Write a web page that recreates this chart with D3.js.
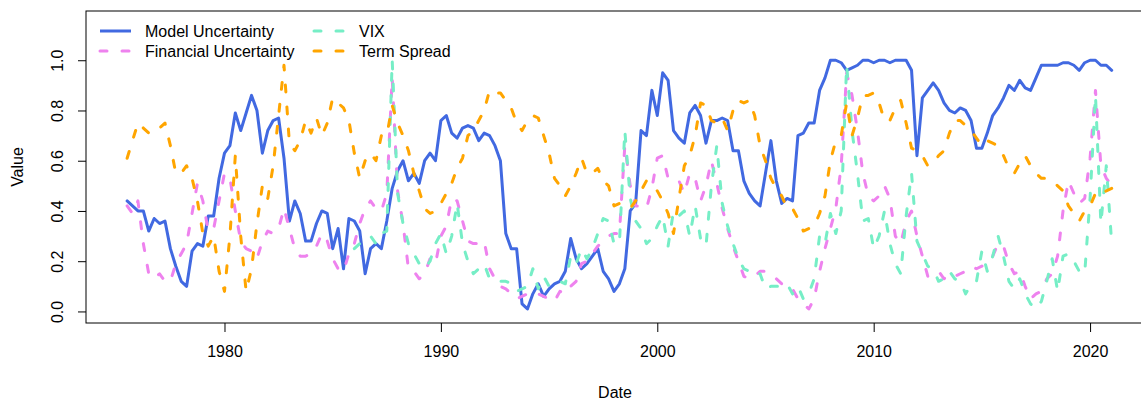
<!DOCTYPE html>
<html>
<head>
<meta charset="utf-8">
<script src="https://cdn.jsdelivr.net/npm/d3@7"></script>
<style>
  body { margin: 0; background: #fff; }
  text { font-family: "Liberation Sans", Arial, sans-serif; font-size: 16px; fill: #000; }
</style>
</head>
<body>
<script>
// quarterly observations, first one at 1975.5
var startYear = 1975.5;
var stepYear = 0.25;
var vixStartYear = 1986.0;

var modelUncertainty = [
  0.44, 0.42,
  0.40, 0.40, 0.32, 0.37,
  0.35, 0.36, 0.25, 0.18,
  0.12, 0.10, 0.24, 0.27,
  0.26, 0.38, 0.38, 0.53,
  0.63, 0.66, 0.79, 0.72,
  0.79, 0.86, 0.80, 0.63,
  0.72, 0.76, 0.77, 0.61,
  0.36, 0.44, 0.39, 0.28,
  0.28, 0.35, 0.40, 0.39,
  0.25, 0.33, 0.17, 0.37,
  0.36, 0.32, 0.15, 0.25,
  0.27, 0.25, 0.36, 0.49,
  0.56, 0.60, 0.52, 0.55,
  0.51, 0.60, 0.63, 0.60,
  0.76, 0.78, 0.71, 0.69,
  0.73, 0.74, 0.73, 0.68,
  0.71, 0.70, 0.66, 0.60,
  0.31, 0.25, 0.25, 0.03,
  0.01, 0.07, 0.11, 0.06,
  0.09, 0.11, 0.12, 0.16,
  0.29, 0.21, 0.17, 0.19,
  0.22, 0.25, 0.16, 0.13,
  0.08, 0.11, 0.17, 0.40,
  0.43, 0.72, 0.70, 0.88,
  0.78, 0.95, 0.92, 0.72,
  0.69, 0.67, 0.79, 0.82,
  0.78, 0.67, 0.76, 0.76,
  0.77, 0.76, 0.64, 0.64,
  0.52, 0.47, 0.44, 0.42,
  0.55, 0.68, 0.52, 0.43,
  0.45, 0.44, 0.70, 0.71,
  0.75, 0.75, 0.88, 0.93,
  1.00, 1.00, 0.99, 0.96,
  0.97, 0.98, 1.00, 1.00,
  0.99, 1.00, 1.00, 0.99,
  1.00, 1.00, 1.00, 0.96,
  0.62, 0.85, 0.88, 0.91,
  0.88, 0.83, 0.80, 0.79,
  0.81, 0.80, 0.76, 0.65,
  0.65, 0.71, 0.78, 0.81,
  0.85, 0.90, 0.88, 0.92,
  0.89, 0.88, 0.93, 0.98,
  0.98, 0.98, 0.98, 0.99,
  0.99, 0.98, 0.96, 0.99,
  1.00, 1.00, 0.98, 0.98,
  0.96
];

var financialUncertainty = [
  0.42, 0.39,
  0.44, 0.27, 0.15, 0.13,
  0.15, 0.12, 0.12, 0.19,
  0.23, 0.27, 0.39, 0.51,
  0.44, 0.32, 0.33, 0.44,
  0.55, 0.53, 0.40, 0.28,
  0.25, 0.24, 0.21, 0.28,
  0.32, 0.31, 0.33, 0.41,
  0.33, 0.25, 0.22, 0.22,
  0.23, 0.26, 0.31, 0.28,
  0.21, 0.17, 0.16, 0.23,
  0.27, 0.35, 0.41, 0.44,
  0.41, 0.40, 0.47, 0.93,
  0.48, 0.35, 0.17, 0.16,
  0.13, 0.15, 0.21, 0.19,
  0.30, 0.34, 0.45, 0.44,
  0.36, 0.28, 0.27, 0.27,
  0.28, 0.17, 0.13, 0.10,
  0.09, 0.07, 0.05, 0.06,
  0.07, 0.08, 0.07, 0.06,
  0.05, 0.04, 0.08, 0.07,
  0.10, 0.12, 0.19, 0.20,
  0.23, 0.26, 0.28, 0.30,
  0.31, 0.31, 0.66, 0.50,
  0.42, 0.42, 0.41, 0.49,
  0.61, 0.62, 0.53, 0.53,
  0.52, 0.47, 0.55, 0.53,
  0.44, 0.50, 0.60, 0.51,
  0.41, 0.33, 0.26, 0.20,
  0.14, 0.13, 0.14, 0.16,
  0.16, 0.15, 0.13, 0.11,
  0.11, 0.09, 0.05, 0.03,
  0.01, 0.05, 0.16, 0.25,
  0.33, 0.41, 0.58, 0.95,
  0.86, 0.72, 0.55, 0.46,
  0.44, 0.46, 0.50, 0.45,
  0.30, 0.27, 0.36, 0.40,
  0.30, 0.22, 0.14, 0.15,
  0.16, 0.13, 0.15, 0.14,
  0.15, 0.16, 0.18, 0.17,
  0.18, 0.20, 0.22, 0.27,
  0.26, 0.19, 0.15, 0.16,
  0.10, 0.05, 0.07, 0.08,
  0.13, 0.15, 0.22, 0.40,
  0.52, 0.47, 0.43, 0.45,
  0.61, 0.88, 0.58, 0.53,
  0.50
];

// VIX only exists from 1986 on
var vix = [
  0.25, 0.27, 0.29, 0.30,
  0.27, 0.31, 0.32, 1.00,
  0.47, 0.35, 0.27, 0.23,
  0.19, 0.17, 0.20, 0.27,
  0.31, 0.23, 0.30, 0.43,
  0.27, 0.20, 0.15, 0.17,
  0.19, 0.13, 0.12, 0.12,
  0.12, 0.11, 0.08, 0.09,
  0.10, 0.17, 0.09, 0.14,
  0.10, 0.11, 0.12, 0.11,
  0.22, 0.19, 0.25, 0.21,
  0.25, 0.31, 0.37, 0.36,
  0.27, 0.27, 0.72, 0.45,
  0.36, 0.33, 0.27, 0.29,
  0.34, 0.38, 0.26, 0.40,
  0.38, 0.40, 0.30, 0.42,
  0.29, 0.26, 0.50, 0.66,
  0.43, 0.34, 0.27, 0.21,
  0.17, 0.16, 0.14, 0.15,
  0.09, 0.10, 0.10, 0.10,
  0.11, 0.07, 0.10, 0.05,
  0.07, 0.13, 0.30, 0.27,
  0.39, 0.31, 0.40, 0.98,
  0.72, 0.55, 0.36, 0.37,
  0.25, 0.30, 0.40, 0.27,
  0.19, 0.15, 0.38, 0.55,
  0.28, 0.23, 0.18, 0.17,
  0.12, 0.13, 0.16, 0.13,
  0.12, 0.07, 0.11, 0.12,
  0.24, 0.16, 0.22, 0.30,
  0.22, 0.12, 0.09, 0.13,
  0.07, 0.03, 0.01, 0.04,
  0.12, 0.21, 0.08, 0.22,
  0.23, 0.20, 0.16, 0.15,
  0.45, 0.86, 0.35, 0.58,
  0.27
];

var termSpread = [
  0.61, 0.68,
  0.75, 0.73, 0.71, 0.71,
  0.73, 0.75, 0.66, 0.55,
  0.55, 0.58, 0.53, 0.44,
  0.31, 0.26, 0.30, 0.16,
  0.08, 0.30, 0.62, 0.30,
  0.08, 0.17, 0.35, 0.50,
  0.45, 0.58, 0.78, 0.98,
  0.67, 0.64, 0.68, 0.76,
  0.71, 0.77, 0.70, 0.75,
  0.85, 0.83, 0.81, 0.76,
  0.63, 0.53, 0.60, 0.63,
  0.60, 0.70, 0.70, 0.82,
  0.75, 0.70, 0.64, 0.55,
  0.48, 0.41, 0.39, 0.40,
  0.43, 0.47, 0.51, 0.57,
  0.61, 0.70, 0.72, 0.76,
  0.80, 0.88, 0.87, 0.87,
  0.84, 0.81, 0.75, 0.72,
  0.76, 0.78, 0.77, 0.70,
  0.63, 0.53, 0.50, 0.46,
  0.50, 0.55, 0.61, 0.55,
  0.55, 0.57, 0.52, 0.50,
  0.42, 0.43, 0.42, 0.41,
  0.44, 0.48, 0.52, 0.50,
  0.48, 0.44, 0.39, 0.31,
  0.45, 0.58, 0.62, 0.70,
  0.83, 0.82, 0.76, 0.75,
  0.77, 0.72, 0.80, 0.84,
  0.83, 0.84, 0.78, 0.66,
  0.60, 0.53, 0.49, 0.46,
  0.41, 0.41, 0.37, 0.32,
  0.33, 0.34, 0.39, 0.46,
  0.60, 0.68, 0.70, 0.83,
  0.70, 0.77, 0.86, 0.86,
  0.87, 0.83, 0.76, 0.76,
  0.81, 0.84, 0.75, 0.65,
  0.64, 0.62, 0.58, 0.59,
  0.62, 0.64, 0.71, 0.76,
  0.76, 0.74, 0.72, 0.69,
  0.66, 0.68, 0.67, 0.66,
  0.62, 0.57, 0.55, 0.59,
  0.62, 0.58, 0.55, 0.53,
  0.53, 0.52, 0.50, 0.48,
  0.42, 0.39, 0.36, 0.40,
  0.42, 0.47, 0.46, 0.48,
  0.49
];

var xTicks = [1980, 1990, 2000, 2010, 2020];
var yTicks = [0.0, 0.2, 0.4, 0.6, 0.8, 1.0];
var legendNames = ["Model Uncertainty", "Financial Uncertainty", "VIX", "Term Spread"];

window.onload = function() {
  drawChart();
};

function toPoints(values, first) {
  // pair every value with its date
  return values.map(function(v, i) {
    return {"date": first + i * stepYear, "value": v};
  });
}

function drawChart() {
  var width = 1141;
  var height = 400;
  var left = 86;
  var right = 1148.5;
  var top = 11;
  var bottom = 323;

  var svg = d3.select("body")
              .append("svg")
              .attr("width", width)
              .attr("height", height);

  // Create scales
  var scaleX = d3.scaleLinear()
                 .domain([1973.6, 2022.7])
                 .range([left, right]);
  var scaleY = d3.scaleLinear()
                 .domain([-0.046, 1.196])
                 .range([bottom, top]);

  var line = d3.line()
               .x(function(d) { return scaleX(d.date); })
               .y(function(d) { return scaleY(d.value); });

  var series = [
    {"name": legendNames[0], "data": toPoints(modelUncertainty, startYear), "color": "#4169e1", "dash": null},
    {"name": legendNames[1], "data": toPoints(financialUncertainty, startYear), "color": "#ee82ee", "dash": "7,15"},
    {"name": legendNames[2], "data": toPoints(vix, vixStartYear), "color": "#76eec6", "dash": "7,15"},
    {"name": legendNames[3], "data": toPoints(termSpread, startYear), "color": "#ffa500", "dash": "7,15"}
  ];

  // Draw lines
  series.forEach(function(s) {
    svg.append("path")
       .datum(s.data)
       .attr("d", line)
       .attr("fill", "none")
       .attr("stroke", s.color)
       .attr("stroke-width", 3)
       .attr("stroke-linejoin", "round")
       .attr("stroke-linecap", "round")
       .attr("stroke-dasharray", s.dash);
  });

  // Box round the plot
  svg.append("rect")
     .attr("x", left)
     .attr("y", top)
     .attr("width", right - left)
     .attr("height", bottom - top)
     .attr("fill", "none")
     .attr("stroke", "#000")
     .attr("stroke-width", 1);

  // x-axis
  var xAxis = d3.axisBottom(scaleX)
                .tickValues(xTicks)
                .tickSize(9)
                .tickPadding(14)
                .tickFormat(d3.format("d"));
  var gx = svg.append("g")
              .attr("transform", "translate(0," + bottom + ")")
              .call(xAxis);
  gx.select(".domain").remove();
  gx.selectAll("text").attr("font-size", 16).attr("font-family", "Liberation Sans, Arial, sans-serif").attr("fill", "#000");
  gx.selectAll("line").attr("stroke", "#000");

  // y-axis, labels turned like R does
  var yAxis = d3.axisLeft(scaleY)
                .tickValues(yTicks)
                .tickSize(8)
                .tickFormat(d3.format(".1f"));
  var gy = svg.append("g")
              .attr("transform", "translate(" + left + ",0)")
              .call(yAxis);
  gy.select(".domain").remove();
  gy.selectAll("line").attr("stroke", "#000");
  gy.selectAll("text")
    .attr("font-size", 16)
    .attr("font-family", "Liberation Sans, Arial, sans-serif")
    .attr("fill", "#000")
    .attr("x", null)
    .attr("dy", null)
    .attr("text-anchor", "middle")
    .attr("transform", "translate(-23,0) rotate(-90)");

  // Axis titles
  svg.append("text")
     .text("Date")
     .attr("text-anchor", "middle")
     .attr("x", 615)
     .attr("y", 398);
  svg.append("text")
     .text("Value")
     .attr("text-anchor", "middle")
     .attr("transform", "translate(23,167) rotate(-90)");

  // Legend, two columns without a frame
  var legendX = [100, 314];
  var legendY = [31, 51];
  series.forEach(function(s, i) {
    var col = Math.floor(i / 2);
    var row = i % 2;
    var g = svg.append("g")
               .attr("transform", "translate(" + legendX[col] + "," + legendY[row] + ")");
    g.append("line")
     .attr("x1", 0)
     .attr("x2", 31)
     .attr("y1", 0)
     .attr("y2", 0)
     .attr("stroke", s.color)
     .attr("stroke-width", 3)
     .attr("stroke-linecap", s.dash ? "round" : "butt")
     .attr("stroke-dasharray", s.dash);
    g.append("text")
     .text(s.name)
     .attr("x", 45)
     .attr("y", 6);
  });
}
</script>
</body>
</html>
